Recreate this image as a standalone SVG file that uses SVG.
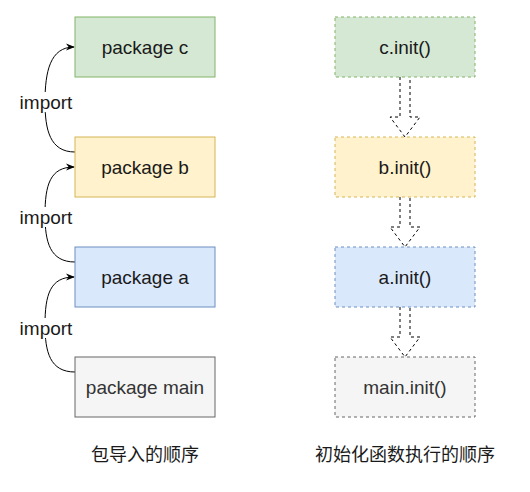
<svg xmlns="http://www.w3.org/2000/svg" width="530" height="492" viewBox="0 0 530 492">
<defs>
<style>
text{font-family:"Liberation Sans","Noto Sans CJK SC",sans-serif;font-size:19px;fill:#1a1a1a;text-anchor:middle;dominant-baseline:central}
.cjk{font-family:"Noto Sans CJK SC",sans-serif;font-size:18px}
.grey{fill:#333333}
.green{fill:#d5e8d4;stroke:#82b366}
.yellow{fill:#fff2cc;stroke:#d6b656}
.blue{fill:#dae8fc;stroke:#6c8ebf}
.gray{fill:#f5f5f5;stroke:#666666}
.dash{stroke-dasharray:3 3}
.curve{fill:none;stroke:#000;stroke-width:1;marker-end:url(#arr)}
.block{fill:#fff;stroke:#000;stroke-dasharray:3 3}
.lbl{fill:#fff}
</style>
<marker id="arr" viewBox="0 0 10 10" refX="9" refY="5" markerWidth="9" markerHeight="9" markerUnits="userSpaceOnUse" orient="auto">
<path d="M0,1 L10,5 L0,9 L3,5 z" fill="#000"/>
</marker>
</defs>
<rect width="530" height="492" fill="#fff"/>

<g id="connectors">
<path class="curve" d="M75,152 C50,152 45,130 45,102 C45,72 50,47 74,47"/>
<path class="curve" d="M75,262 C50,262 45,242 45,215 C45,185 50,167 74,167"/>
<path class="curve" d="M75,372 C50,372 45,352 45,325 C45,295 50,277 74,277"/>
<rect class="lbl" x="18" y="92" width="58" height="20"/>
<text x="46" y="102">import</text>
<rect class="lbl" x="18" y="207" width="58" height="20"/>
<text x="46" y="217">import</text>
<rect class="lbl" x="18" y="318" width="58" height="20"/>
<text x="46" y="328">import</text>
<path class="block" d="M400,77 L400,117 L390,117 L405,137 L420,117 L410,117 L410,77"/>
<path class="block" d="M400,197 L400,227 L390,227 L405,247 L420,227 L410,227 L410,197"/>
<path class="block" d="M400,307 L400,337 L390,337 L405,357 L420,337 L410,337 L410,307"/>
</g>

<g id="pkg-c"><rect class="green" x="75" y="17" width="140" height="60"/><text x="145" y="47">package c</text></g>
<g id="pkg-b"><rect class="yellow" x="75" y="137" width="140" height="60"/><text x="145" y="167">package b</text></g>
<g id="pkg-a"><rect class="blue" x="75" y="247" width="140" height="60"/><text x="145" y="277">package a</text></g>
<g id="pkg-main"><rect class="gray" x="75" y="357" width="140" height="60"/><text class="grey" x="145" y="387">package main</text></g>

<g id="init-c"><rect class="green dash" x="335" y="17" width="140" height="60"/><text x="405" y="47">c.init()</text></g>
<g id="init-b"><rect class="yellow dash" x="335" y="137" width="140" height="60"/><text x="405" y="167">b.init()</text></g>
<g id="init-a"><rect class="blue dash" x="335" y="247" width="140" height="60"/><text x="405" y="277">a.init()</text></g>
<g id="init-main"><rect class="gray dash" x="335" y="357" width="140" height="60"/><text class="grey" x="405" y="387">main.init()</text></g>

<g id="label-left"><text class="cjk" x="145" y="453">包导入的顺序</text></g>
<g id="label-right"><text class="cjk" x="405" y="453">初始化函数执行的顺序</text></g>
</svg>
